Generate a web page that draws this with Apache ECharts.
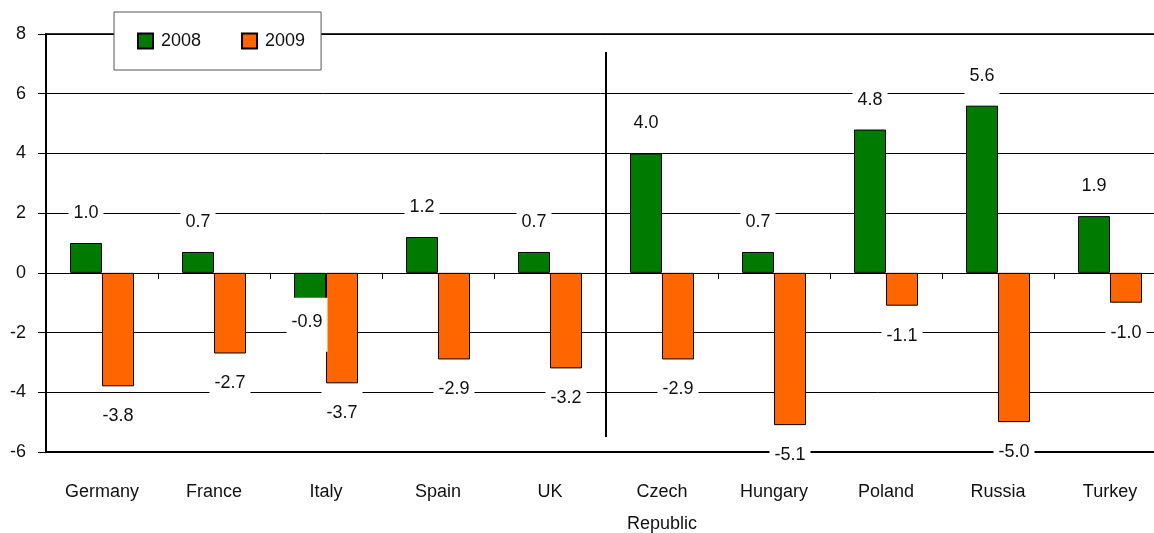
<!DOCTYPE html>
<html>
<head>
<meta charset="utf-8">
<script src="https://cdn.jsdelivr.net/npm/echarts@6/dist/echarts.min.js"></script>
<style>
  html, body { margin: 0; padding: 0; background: #fff; }
  #chart { width: 1154px; height: 533px; }
</style>
</head>
<body>
<div id="chart"></div>
<script>
// Real GDP growth, % change
const categories = ['Germany', 'France', 'Italy', 'Spain', 'UK', 'Czech\nRepublic', 'Hungary', 'Poland', 'Russia', 'Turkey'];
const growth2008 = [1.0, 0.7, -0.9, 1.2, 0.7, 4.0, 0.7, 4.8, 5.6, 1.9];
const growth2009 = [-3.8, -2.7, -3.7, -2.9, -3.2, -2.9, -5.1, -1.1, -5.0, -1.0];
const yTicks = { min: -6, max: 8, interval: 2 };
// vertical separator between the two country groups (position on a 0..10 category scale, vertical span in % units)
const dividerAt = 5;
const dividerSpan = [7.4, -5.5];

const FONT = "'Liberation Sans', Arial, sans-serif";
const GREEN = '#007A00';
const ORANGE = '#FF6600';

const valueLabel = {
  show: true,
  formatter: p => p.value.toFixed(1),
  fontFamily: FONT,
  fontSize: 18,
  lineHeight: 20,
  color: '#111',
  backgroundColor: '#fff',
  padding: [12, 5],
  distance: 8
};

function barData(values) {
  return values.map(v => ({
    value: v,
    label: { position: v >= 0 ? 'top' : 'bottom' }
  }));
}

const data2008 = barData(growth2008);
// the small negative 2008 bar for Italy carries its label just below-left
data2008[2].label = { position: 'bottom', offset: [-3, -10], padding: [14, 5, 20, 5] };

const chart = echarts.init(document.getElementById('chart'), null, { renderer: 'canvas' });

chart.setOption({
  animation: false,
  backgroundColor: '#fff',
  textStyle: { fontFamily: FONT },
  grid: {
    left: 46, top: 34, width: 1120, height: 418,
    outerBoundsMode: 'none',
    containLabel: false,
    show: true, borderColor: '#333', borderWidth: 2, backgroundColor: 'transparent'
  },
  legend: {
    left: 114, top: 12,
    padding: [19, 16, 19, 23],
    itemGap: 40,
    itemWidth: 15, itemHeight: 15,
    icon: 'rect',
    backgroundColor: '#fff',
    borderColor: '#555', borderWidth: 1,
    textStyle: { fontFamily: FONT, fontSize: 18, lineHeight: 20, color: '#111', padding: [0, 0, 0, 3] },
    data: ['2008', '2009']
  },
  xAxis: [
    {
      // axis through zero with category separators
      type: 'category', data: categories, position: 'bottom',
      axisLine: { onZero: true, lineStyle: { color: '#000', width: 1 } },
      axisTick: { show: true, length: 6, interval: 0, lineStyle: { color: '#000', width: 1 } },
      axisLabel: { show: false },
      splitLine: { show: false }
    },
    {
      // bottom axis carrying the country names
      type: 'category', data: categories, position: 'bottom',
      axisLine: { onZero: false, lineStyle: { color: '#000', width: 2 } },
      axisTick: { show: false },
      axisLabel: { interval: 0, margin: 24, fontFamily: FONT, fontSize: 18, lineHeight: 32, color: '#111' },
      splitLine: { show: false }
    },
    {
      type: 'value', min: 0, max: categories.length, show: false
    }
  ],
  yAxis: {
    type: 'value', min: yTicks.min, max: yTicks.max, interval: yTicks.interval,
    axisLine: { show: true, onZero: false, lineStyle: { color: '#000', width: 2 } },
    axisTick: { show: true, length: 8, lineStyle: { color: '#000', width: 1 } },
    axisLabel: { margin: 20, fontFamily: FONT, fontSize: 18, color: '#111' },
    splitLine: { show: true, lineStyle: { color: '#000', width: 1 } }
  },
  series: [
    {
      name: '2008', type: 'bar', xAxisIndex: 0,
      barWidth: 32, barGap: '0%',
      itemStyle: { color: GREEN, borderColor: '#000', borderWidth: 1 },
      label: valueLabel,
      data: data2008
    },
    {
      name: '2009', type: 'bar', xAxisIndex: 0,
      barWidth: 32, barGap: '0%',
      itemStyle: { color: ORANGE, borderColor: '#000', borderWidth: 1 },
      label: valueLabel,
      data: barData(growth2009)
    },
    {
      name: 'divider', type: 'line', xAxisIndex: 2,
      symbol: 'none', silent: true,
      lineStyle: { color: '#000', width: 2 },
      data: dividerSpan.map(y => [dividerAt, y]),
      z: 1
    }
  ]
});
</script>
</body>
</html>
